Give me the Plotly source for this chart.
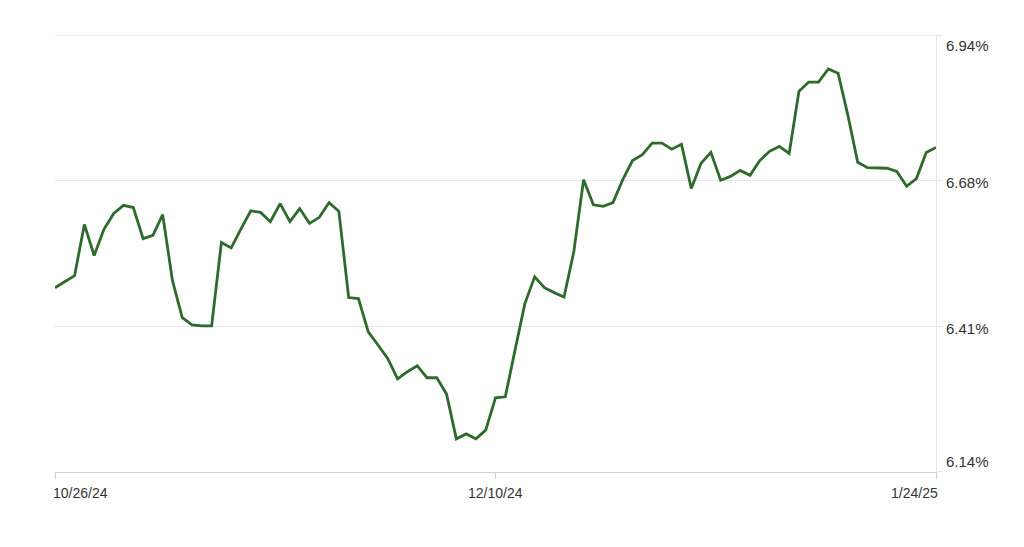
import pandas as pd
import plotly.graph_objects as go

start_date = "2024-10-26"
n_days = 91
dates = pd.date_range(start_date, periods=n_days, freq="D")

rates = [
    6.481, 6.492, 6.503, 6.597, 6.540, 6.588, 6.617, 6.632, 6.628, 6.571,
    6.577, 6.615, 6.494, 6.426, 6.413, 6.411, 6.411, 6.564, 6.554, 6.589,
    6.622, 6.619, 6.602, 6.635, 6.602, 6.626, 6.599, 6.610, 6.637, 6.621,
    6.463, 6.461, 6.400, 6.376, 6.351, 6.314, 6.327, 6.338, 6.316, 6.316,
    6.286, 6.204, 6.213, 6.204, 6.220, 6.279, 6.281, 6.367, 6.452, 6.501,
    6.481, 6.472, 6.464, 6.547, 6.679, 6.633, 6.630, 6.637, 6.679, 6.714,
    6.725, 6.746, 6.746, 6.735, 6.744, 6.663, 6.709, 6.729, 6.678, 6.685,
    6.696, 6.687, 6.714, 6.731, 6.740, 6.727, 6.841, 6.858, 6.858, 6.882,
    6.874, 6.797, 6.711, 6.701, 6.700, 6.700, 6.694, 6.667, 6.681, 6.729,
    6.738,
]

x_tick_dates = ["2024-10-26", "2024-12-10", "2025-01-24"]
x_tick_labels = ["10/26/24", "12/10/24", "1/24/25"]
x_tick_anchor = ["left", "center", "right"]

y_tick_vals = [6.1433, 6.4102, 6.6771, 6.944]
y_tick_labels = ["6.14%", "6.41%", "6.68%", "6.94%"]

line_color = "#2e6a2b"
grid_color = "#e6e6e6"
text_color = "#333333"
font_family = "Liberation Sans, Arial, sans-serif"

fig = go.Figure()
fig.add_trace(go.Scatter(
    x=dates, y=rates, mode="lines",
    line=dict(color=line_color, width=2.8),
    hoverinfo="skip",
))

fig.update_layout(
    width=1016, height=539,
    margin=dict(l=47, r=88, t=27, b=75, autoexpand=False),
    paper_bgcolor="white", plot_bgcolor="white",
    showlegend=False,
    font=dict(family=font_family, color=text_color, size=14),
)

fig.update_xaxes(
    range=[pd.Timestamp(x_tick_dates[0]), pd.Timestamp(x_tick_dates[-1])],
    tickvals=[pd.Timestamp(d) for d in x_tick_dates],
    showticklabels=False,
    ticks="outside", ticklen=6, tickcolor="#d0d0d0", tickwidth=1,
    showgrid=False, zeroline=False,
    showline=True, linecolor="#d0d0d0", linewidth=1,
)
fig.update_yaxes(
    side="right",
    range=[6.1432, 6.9442],
    tickvals=y_tick_vals,
    showticklabels=False,
    showgrid=True, gridcolor=grid_color, gridwidth=1,
    zeroline=False,
    showline=True, linecolor=grid_color, linewidth=1,
    ticks="outside", ticklen=6, tickcolor=grid_color,
)

# top gridline (plotly hides gridlines lying on the plot edge)
fig.add_shape(
    type="line", xref="paper", yref="y",
    x0=0, x1=1, y0=y_tick_vals[-1], y1=y_tick_vals[-1],
    line=dict(color=grid_color, width=1), layer="below",
)

for d, lab, anc in zip(x_tick_dates, x_tick_labels, x_tick_anchor):
    fig.add_annotation(
        x=pd.Timestamp(d), y=0, xref="x", yref="paper",
        text=lab, showarrow=False, xanchor=anc, yanchor="top",
        xshift=(-4 if anc == "left" else (4 if anc == "right" else 0)),
        yshift=-11, font=dict(size=14, color=text_color, family=font_family),
    )

n_y = len(y_tick_vals)
for k, (v, lab) in enumerate(zip(y_tick_vals, y_tick_labels)):
    if k == 0:
        ya, ys = "bottom", 0
    elif k == n_y - 1:
        ya, ys = "top", 0
    else:
        ya, ys = "middle", -2
    fig.add_annotation(
        x=1, y=v, xref="paper", yref="y",
        text=lab, showarrow=False, xanchor="left", yanchor=ya,
        xshift=8, yshift=ys,
        font=dict(size=15, color=text_color, family=font_family),
    )

fig.write_html("out.html")
